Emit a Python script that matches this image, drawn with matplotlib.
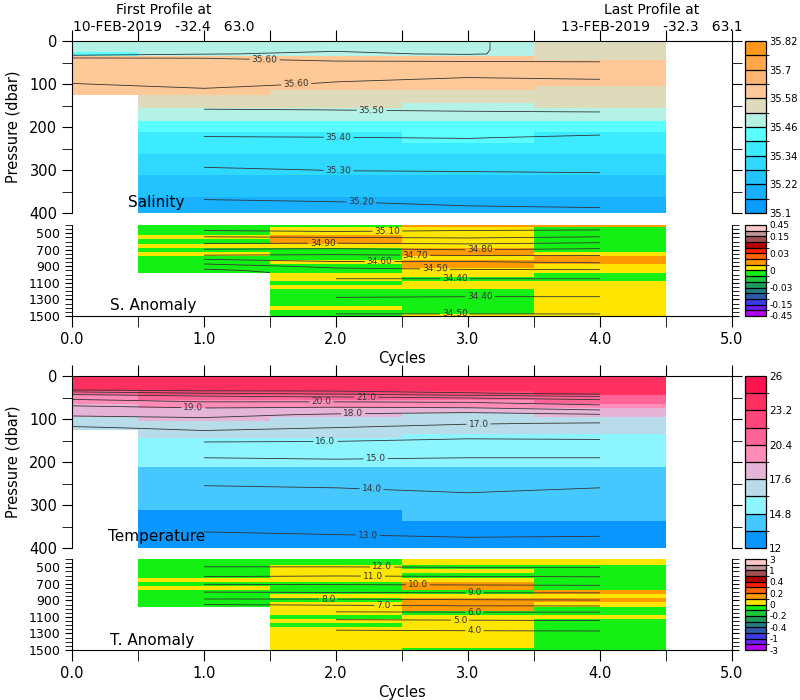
# Argo float section: salinity / temperature over the first 4 cycles
import numpy as np
import matplotlib
matplotlib.use("Agg")
import matplotlib.pyplot as plt
from matplotlib.colors import ListedColormap, BoundaryNorm
from matplotlib.cm import ScalarMappable
from matplotlib.ticker import MultipleLocator, FormatStrFormatter

nan = np.nan

# -------- DATA --------
CYCLES = [0, 1, 2, 3, 4]
P_UP = [0, 10, 20, 30, 40, 50, 60, 70, 80, 90, 100, 110, 120, 130, 140, 150,
        160, 170, 180, 190, 200, 225, 250, 275, 300, 325, 350, 375, 400]
P_DEEP = [400, 450, 500, 550, 600, 650, 700, 750, 800, 850, 900, 950, 1000,
          1050, 1100, 1150, 1200, 1250, 1300, 1350, 1400, 1450, 1500]

# salinity 0-400 dbar, one list per cycle
SAL_C0 = [35.49, 35.49, 35.49, 35.45, 35.61, 35.62, 35.625, 35.625, 35.62, 35.61,
          35.598, 35.59, 35.585] + [nan] * 16
SAL_C1 = [35.49, 35.49, 35.49, 35.495, 35.60, 35.62, 35.625, 35.625, 35.625, 35.625,
          35.615, 35.60, 35.59, 35.575, 35.555, 35.53, 35.495, 35.48, 35.465, 35.45,
          35.44, 35.395, 35.365, 35.33, 35.29, 35.26, 35.23, 35.19, 35.16]
SAL_C2 = [35.49, 35.49, 35.49, 35.515, 35.58, 35.61, 35.615, 35.615, 35.61, 35.605,
          35.595, 35.585, 35.575, 35.56, 35.54, 35.525, 35.501, 35.48, 35.465, 35.45,
          35.44, 35.398, 35.37, 35.335, 35.302, 35.27, 35.24, 35.198, 35.17]
SAL_C3 = [35.49, 35.49, 35.49, 35.49, 35.585, 35.605, 35.61, 35.61, 35.605, 35.595,
          35.59, 35.58, 35.57, 35.55, 35.535, 35.515, 35.505, 35.49, 35.47, 35.45,
          35.44, 35.402, 35.37, 35.335, 35.305, 35.27, 35.24, 35.21, 35.18]
SAL_C4 = [35.55, 35.55, 35.55, 35.56, 35.575, 35.605, 35.62, 35.62, 35.62, 35.598,
          35.59, 35.575, 35.565, 35.55, 35.54, 35.53, 35.51, 35.49, 35.47, 35.45,
          35.43, 35.39, 35.36, 35.335, 35.31, 35.27, 35.245, 35.215, 35.185]

# temperature 0-400 dbar
TEMP_C0 = [24.0, 24.0, 24.0, 23.5, 21.3, 20.3, 19.6, 18.95, 18.6, 18.2,
           17.5, 17.3, 16.9] + [nan] * 16
TEMP_C1 = [24.0, 24.0, 24.0, 23.8, 22.0, 20.5, 20.0, 19.3, 18.6, 18.2,
           17.9, 17.5, 17.2, 16.9, 16.5, 16.1, 15.8, 15.5, 15.3, 15.0,
           14.85, 14.5, 14.05, 13.8, 13.55, 13.35, 13.1, 12.9, 12.8]
TEMP_C2 = [24.1, 24.1, 24.0, 23.7, 22.3, 20.8, 20.0, 19.2, 18.4, 17.9,
           17.55, 17.3, 17.0, 16.8, 16.5, 16.05, 15.8, 15.5, 15.3, 15.05,
           14.9, 14.5, 14.1, 13.85, 13.6, 13.38, 13.15, 12.95, 12.8]
TEMP_C3 = [24.2, 24.2, 24.1, 23.8, 22.9, 21.1, 20.1, 19.3, 18.5, 17.5,
           17.3, 17.05, 16.8, 16.5, 16.15, 15.9, 15.7, 15.45, 15.25, 15.0,
           14.85, 14.55, 14.3, 13.95, 13.7, 13.45, 13.2, 13.0, 12.85]
TEMP_C4 = [24.3, 24.3, 24.2, 24.0, 23.4, 21.5, 20.5, 19.8, 18.9, 17.9,
           17.4, 16.95, 16.7, 16.45, 16.15, 15.95, 15.7, 15.45, 15.25, 15.0,
           14.85, 14.5, 14.1, 13.85, 13.6, 13.42, 13.2, 12.98, 12.85]

# 400-1500 dbar (cycle 0 has no deep data)
NO_DEEP = [nan] * 23
SAL_D1 = [35.16, 35.12, 35.06, 34.99, 34.93, 34.865, 34.79, 34.73, 34.63, 34.53,
          34.46, 34.37] + [nan] * 11
SAL_D2 = [35.20, 35.14, 35.07, 35.00, 34.93, 34.855, 34.78, 34.71, 34.65, 34.59,
          34.52, 34.47, 34.43, 34.40, 34.38, 34.37, 34.37, 34.39, 34.41, 34.43,
          34.46, 34.49, 34.51]
SAL_D3 = [35.19, 35.12, 35.06, 35.01, 34.94, 34.87, 34.80, 34.73, 34.65, 34.59,
          34.53, 34.49, 34.45, 34.40, 34.38, 34.37, 34.38, 34.395, 34.41, 34.43,
          34.45, 34.49, 34.51]
SAL_D4 = [35.18, 35.11, 35.06, 34.99, 34.92, 34.85, 34.78, 34.72, 34.67, 34.61,
          34.54, 34.49, 34.45, 34.40, 34.38, 34.37, 34.38, 34.395, 34.41, 34.43,
          34.45, 34.49, 34.51]

SANOM_D1 = [-0.005, -0.005, -0.005, 0.005, -0.005, 0.005, -0.005, 0.005, -0.005,
            -0.005, -0.005, -0.005] + [nan] * 11
SANOM_D2 = [-0.005, 0.005, 0.005, 0.015, 0.015, 0.005, -0.005, -0.005, -0.005,
            0.005, -0.005, -0.005, 0.005, 0.005, -0.005, 0.005, -0.005, -0.005,
            -0.005, -0.005, 0.005, -0.005, -0.005]
SANOM_D3 = [0.015, 0.005, 0.005, 0.005, 0.005, 0.005, 0.015, 0.015, 0.005,
            0.015, 0.015, 0.005, 0.005, -0.005, 0.005, 0.005, -0.005, -0.005,
            -0.005, -0.005, -0.005, -0.005, 0.005]
SANOM_D4 = [0.015, -0.005, -0.005, -0.005, -0.005, -0.005, -0.005, 0.005, 0.015,
            0.015, 0.005, 0.005, -0.005, -0.005, 0.005, 0.005, 0.005, 0.005,
            0.005, 0.005, 0.005, 0.005, 0.005]

TEMP_D1 = [12.8, 12.4, 11.95, 11.55, 11.1, 10.7, 10.05, 9.6, 9.0, 8.4, 7.8, 7.0] + [nan] * 11
TEMP_D2 = [12.8, 12.4, 11.95, 11.5, 11.05, 10.55, 10.1, 9.55, 9.05, 8.45, 7.8, 7.1,
           6.5, 5.85, 5.3, 4.85, 4.5, 4.05, 3.8, 3.55, 3.35, 3.2, 3.05]
TEMP_D3 = [12.85, 12.45, 12.0, 11.55, 11.1, 10.6, 10.15, 9.6, 9.1, 8.5, 7.9, 7.2,
           6.55, 5.9, 5.35, 4.9, 4.5, 4.1, 3.8, 3.55, 3.35, 3.2, 3.05]
TEMP_D4 = [12.85, 12.45, 12.0, 11.6, 11.15, 10.65, 10.2, 9.65, 9.1, 8.55, 7.95, 7.25,
           6.55, 5.9, 5.4, 4.95, 4.55, 4.1, 3.85, 3.6, 3.4, 3.2, 3.05]

TANOM_D1 = [-0.05, -0.05, -0.05, -0.05, -0.05, 0.05, -0.05, 0.05, -0.05, -0.05,
            -0.05, -0.05] + [nan] * 11
TANOM_D2 = [-0.05, -0.05, 0.05, 0.05, 0.05, 0.05, -0.05, -0.05, -0.05, 0.05, -0.05,
            0.05, 0.05, 0.05, -0.05, 0.05, -0.05, 0.05, 0.05, 0.05, 0.05, 0.05, 0.05]
TANOM_D3 = [0.05, 0.05, -0.05, 0.05, -0.05, 0.05, 0.15, 0.15, -0.05, 0.05, 0.15,
            0.15, 0.15, -0.05, 0.05, 0.05, 0.05, 0.05, 0.05, 0.05, 0.05, 0.05, -0.05]
TANOM_D4 = [0.05, 0.05, -0.05, -0.05, -0.05, -0.05, -0.05, -0.05, 0.15, 0.05, 0.15,
            0.05, -0.05, -0.05, 0.05, -0.05, -0.05, -0.05, -0.05, -0.05, -0.05, -0.05, -0.05]

# contour levels
SAL_UP_LEVELS = [35.2, 35.3, 35.4, 35.5, 35.6]
SAL_DEEP_LEVELS = [34.4, 34.5, 34.6, 34.7, 34.8, 34.9, 35.0, 35.1, 35.2]
TEMP_UP_LEVELS = [13, 14, 15, 16, 17, 18, 19, 20, 21, 22, 23]
TEMP_DEEP_LEVELS = [4, 5, 6, 7, 8, 9, 10, 11, 12]

# where the contour labels sit (cycle, dbar)
SAL_UP_LABEL_AT = [(1.46, 42), (1.70, 105), (2.27, 164), (2.02, 225), (2.02, 306), (2.19, 382)]
SAL_DEEP_LABEL_AT = [(2.39, 474), (1.90, 621), (3.09, 702), (2.60, 771), (2.33, 862),
                     (2.75, 932), (2.90, 1053), (3.09, 1258), (2.90, 1460)]
TEMP_UP_LABEL_AT = [(2.23, 46), (1.89, 60), (0.92, 70), (2.13, 88), (3.08, 109),
                    (1.92, 151), (2.30, 193), (2.27, 258), (2.24, 365)]
TEMP_DEEP_LABEL_AT = [(2.35, 493), (2.28, 614), (2.62, 718), (3.05, 807), (1.94, 884),
                      (2.36, 948), (3.05, 1029), (2.94, 1126), (3.05, 1258)]

# -------- COLOUR SCALES --------
SAL_LEVELS = [35.1, 35.16, 35.22, 35.28, 35.34, 35.4, 35.46, 35.52, 35.58,
              35.64, 35.7, 35.76, 35.82]
SAL_TICKS = [35.1, 35.22, 35.34, 35.46, 35.58, 35.7, 35.82]
SAL_COLORS = ['#0a9bff', '#18b0ff', '#22c3ff', '#2ed8ff', '#3cebff', '#5affff',
              '#b4f2e6', '#dedabc', '#ffc896', '#ffb473', '#ffa64a', '#ff9a1e']

TEMP_LEVELS = [12, 13.4, 14.8, 16.2, 17.6, 19, 20.4, 21.8, 23.2, 24.6, 26]
TEMP_TICKS = [12, 14.8, 17.6, 20.4, 23.2, 26]
TEMP_COLORS = ['#0a96ff', '#46c8ff', '#8cf5ff', '#b9dceb', '#e6b4d7', '#ff8cb9',
               '#ff6496', '#ff4678', '#ff3060', '#ff1450']

ANOM_COLORS = ['#b400f0', '#6e1ef0', '#3c3ce6', '#2d5aaa', '#237d82', '#1e9b5a',
               '#1ec83c', '#14f014', '#ffe600', '#ff9b00', '#ff6400', '#ff1e00',
               '#b40000', '#a05050', '#c09696', '#ffc8c8']
SANOM_LEVELS = [-0.45, -0.3, -0.15, -0.1, -0.06, -0.03, -0.02, -0.01, 0,
                0.01, 0.02, 0.03, 0.06, 0.1, 0.15, 0.3, 0.45]
SANOM_TICKS = [-0.45, -0.15, -0.03, 0, 0.03, 0.15, 0.45]
TANOM_LEVELS = [-3, -2, -1, -0.7, -0.4, -0.3, -0.2, -0.1, 0,
                0.1, 0.2, 0.3, 0.4, 0.7, 1, 2, 3]
TANOM_TICKS = [-3, -1, -0.4, -0.2, 0, 0.2, 0.4, 1, 3]

plt.rcParams['font.family'] = ['DejaVu Sans']
plt.rcParams['axes.unicode_minus'] = False

LINE = '#333333'
L, W = 0.09, 0.825
CB_L, CB_W = 0.931, 0.027
UP_H, LO_H = 0.2457, 0.13


def grid(cols):
    return np.ma.masked_invalid(np.column_stack(cols))


def scale(levels, colors):
    return ListedColormap(colors), BoundaryNorm(levels, len(colors))


def upper_axes(bottom):
    ax = fig.add_axes([L, bottom, W, UP_H])
    ax.set_xlim(0, 5)
    ax.set_ylim(400, 0)
    ax.spines['bottom'].set_visible(False)
    ax.xaxis.set_ticks_position('top')
    ax.set_xticks(np.arange(0, 5.01, 0.5))
    ax.tick_params(axis='x', direction='out', length=8, labeltop=False, labelbottom=False)
    ax.set_yticks([0, 100, 200, 300, 400])
    ax.yaxis.set_minor_locator(MultipleLocator(50))
    ax.tick_params(axis='y', which='both', direction='out', length=7,
                   left=True, right=True, labelsize=10.5)
    ax.set_ylabel('Pressure (dbar)', fontsize=10.5, labelpad=6)
    return ax


def lower_axes(bottom):
    ax = fig.add_axes([L, bottom, W, LO_H])
    ax.set_xlim(0, 5)
    ax.set_ylim(1500, 400)
    ax.spines['top'].set_visible(False)
    ax.xaxis.set_ticks_position('bottom')
    ax.set_xticks([0, 1, 2, 3, 4, 5])
    ax.xaxis.set_minor_locator(MultipleLocator(0.5))
    ax.xaxis.set_major_formatter(FormatStrFormatter('%.1f'))
    ax.tick_params(axis='x', which='both', direction='out', length=8, labelsize=10.5)
    ax.set_yticks([500, 700, 900, 1100, 1300, 1500])
    ax.yaxis.set_minor_locator(MultipleLocator(50))
    ax.tick_params(axis='y', which='both', direction='out', length=5,
                   left=True, right=True, labelsize=9)
    ax.set_xlabel('Cycles', fontsize=10.5, labelpad=3)
    return ax


def colorbar(ax, cmap, norm, ticks, size):
    pos = ax.get_position()
    cax = fig.add_axes([CB_L, pos.y0, CB_W, pos.height])
    cb = fig.colorbar(ScalarMappable(norm=norm, cmap=cmap), cax=cax,
                      drawedges=True, spacing='uniform', ticks=ticks)
    cb.outline.set_linewidth(0.9)
    cb.dividers.set_color('black')
    cb.dividers.set_linewidth(0.9)
    cax.yaxis.set_major_formatter(FormatStrFormatter('%g'))
    cax.tick_params(length=0, labelsize=size, pad=2)


def section(ax, pres, fill, lines, levels, fmt, cmap, norm, label_at):
    ax.pcolormesh(CYCLES, pres, fill, cmap=cmap, norm=norm, shading='nearest')
    cs = ax.contour(CYCLES, pres, lines, levels=levels, colors=LINE, linewidths=0.6)
    ax.clabel(cs, fmt=fmt, fontsize=6.5, inline=True, inline_spacing=2,
              manual=label_at)


fig = plt.figure(figsize=(8, 7), dpi=100)

sal_cmap, sal_norm = scale(SAL_LEVELS, SAL_COLORS)
temp_cmap, temp_norm = scale(TEMP_LEVELS, TEMP_COLORS)
sanom_cmap, sanom_norm = scale(SANOM_LEVELS, ANOM_COLORS)
tanom_cmap, tanom_norm = scale(TANOM_LEVELS, ANOM_COLORS)

sal_up = grid([SAL_C0, SAL_C1, SAL_C2, SAL_C3, SAL_C4])
temp_up = grid([TEMP_C0, TEMP_C1, TEMP_C2, TEMP_C3, TEMP_C4])
sal_deep = grid([NO_DEEP, SAL_D1, SAL_D2, SAL_D3, SAL_D4])
sanom_deep = grid([NO_DEEP, SANOM_D1, SANOM_D2, SANOM_D3, SANOM_D4])
temp_deep = grid([NO_DEEP, TEMP_D1, TEMP_D2, TEMP_D3, TEMP_D4])
tanom_deep = grid([NO_DEEP, TANOM_D1, TANOM_D2, TANOM_D3, TANOM_D4])

# salinity
ax1 = upper_axes(0.6957)
section(ax1, P_UP, sal_up, sal_up, SAL_UP_LEVELS, '%.2f', sal_cmap, sal_norm,
        SAL_UP_LABEL_AT)
ax1.text(0.085, 0.064, 'Salinity', transform=ax1.transAxes, fontsize=11, va='center')
colorbar(ax1, sal_cmap, sal_norm, SAL_TICKS, 7.2)

ax2 = lower_axes(0.5486)
section(ax2, P_DEEP, sanom_deep, sal_deep, SAL_DEEP_LEVELS, '%.2f',
        sanom_cmap, sanom_norm, SAL_DEEP_LABEL_AT)
ax2.text(0.058, 0.113, 'S. Anomaly', transform=ax2.transAxes, fontsize=11, va='center')
colorbar(ax2, sanom_cmap, sanom_norm, SANOM_TICKS, 6.5)

# temperature
ax3 = upper_axes(0.2171)
section(ax3, P_UP, temp_up, temp_up, TEMP_UP_LEVELS, '%.1f', temp_cmap, temp_norm,
        TEMP_UP_LABEL_AT)
ax3.text(0.055, 0.065, 'Temperature', transform=ax3.transAxes, fontsize=11, va='center')
colorbar(ax3, temp_cmap, temp_norm, TEMP_TICKS, 7.5)

ax4 = lower_axes(0.0714)
section(ax4, P_DEEP, tanom_deep, temp_deep, TEMP_DEEP_LEVELS, '%.1f',
        tanom_cmap, tanom_norm, TEMP_DEEP_LABEL_AT)
ax4.text(0.058, 0.11, 'T. Anomaly', transform=ax4.transAxes, fontsize=11, va='center')
colorbar(ax4, tanom_cmap, tanom_norm, TANOM_TICKS, 6.5)

# header
fig.text(164 / 800, 1 - 10 / 700, 'First Profile at', ha='center', va='center', fontsize=10)
fig.text(164 / 800, 1 - 27 / 700, '10-FEB-2019   -32.4   63.0', ha='center', va='center', fontsize=10)
fig.text(652 / 800, 1 - 10 / 700, 'Last Profile at', ha='center', va='center', fontsize=10)
fig.text(652 / 800, 1 - 27 / 700, '13-FEB-2019   -32.3   63.1', ha='center', va='center', fontsize=10)

fig.savefig('out.png', dpi=100)
print('saved out.png')
